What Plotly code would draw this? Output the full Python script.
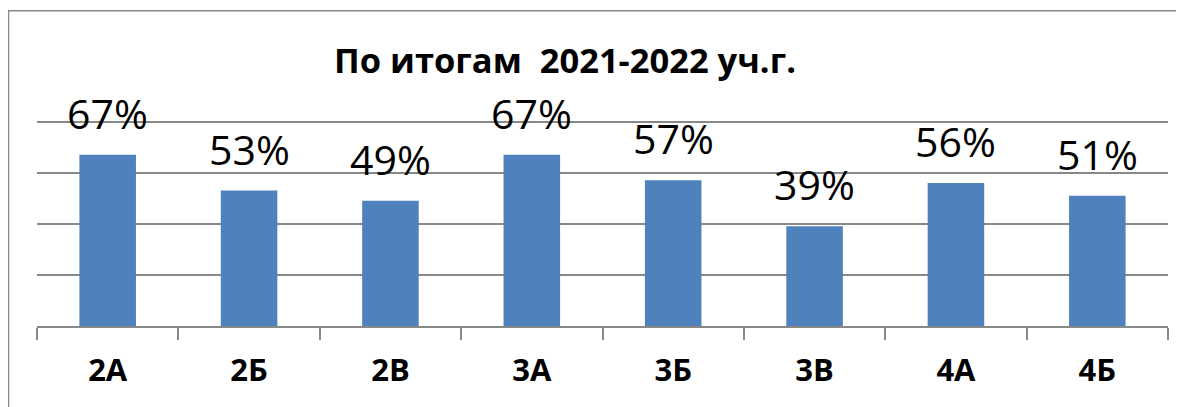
import plotly.graph_objects as go

categories = ["2А", "2Б", "2В", "3А", "3Б", "3В", "4А", "4Б"]
values = [67, 53, 49, 67, 57, 39, 56, 51]
labels = [f"{v}%" for v in values]
title_text = "По итогам  2021-2022 уч.г."

# page offset (browser body margin)
OFF = 8
W, H = 1184 - OFF, 407 - OFF
YMAX = 81
# plot area in page pixels (80% gridline sits at page y=122)
PX0, PX1, PY1 = 37, 1168, 326
PY0 = PY1 - (PY1 - 122) * YMAX / 80
L = PX0 - OFF
R = W - (PX1 - OFF)
T = PY0 - OFF
B = H - (PY1 - OFF)

fig = go.Figure()
fig.add_trace(go.Bar(
    x=categories, y=values,
    marker=dict(color="#4F81BD", line=dict(width=0)),
    width=0.4,
    hoverinfo="skip",
))

for c, v, t in zip(categories, values, labels):
    fig.add_annotation(
        x=c, y=v, text=t, showarrow=False,
        xanchor="center", yanchor="bottom", yshift=12,
        font=dict(family="Open Sans", size=41, color="#000000"),
    )

pw = PX1 - PX0
ph = PY1 - PY0
def px_x(px):
    return (px - PX0) / pw
def px_y(py):
    return (PY1 - py) / ph

fig.add_annotation(
    x=px_x(565), y=px_y(60), xref="paper", yref="paper",
    text="<b>" + title_text + "</b>", showarrow=False,
    xanchor="center", yanchor="middle",
    font=dict(family="Open Sans", size=34.5, color="#000000"),
)

fig.add_shape(
    type="rect", xref="paper", yref="paper",
    x0=px_x(8.5), y0=px_y(440), x1=px_x(1230), y1=px_y(11.5),
    line=dict(color="#888888", width=1.5), fillcolor="rgba(0,0,0,0)",
    layer="below",
)

fig.update_layout(
    width=W, height=H,
    margin=dict(l=L, r=R, t=T, b=B, pad=0),
    paper_bgcolor="white", plot_bgcolor="white",
    showlegend=False,
    bargap=0.6,
    xaxis=dict(
        type="category",
        showline=True, linecolor="#888888", linewidth=1.5,
        ticks="outside", tickson="boundaries", ticklen=12, tickwidth=1.5, tickcolor="#888888",
        tickfont=dict(family="Open Sans", size=31, color="#000000", weight="bold"),
        ticklabelstandoff=16,
        showgrid=False, zeroline=False,
    ),
    yaxis=dict(
        range=[0, YMAX], dtick=20, tick0=0,
        showgrid=True, gridcolor="#888888", gridwidth=1.5,
        showticklabels=False, ticks="",
        showline=False, zeroline=False,
    ),
)

fig.write_html("out.html")
